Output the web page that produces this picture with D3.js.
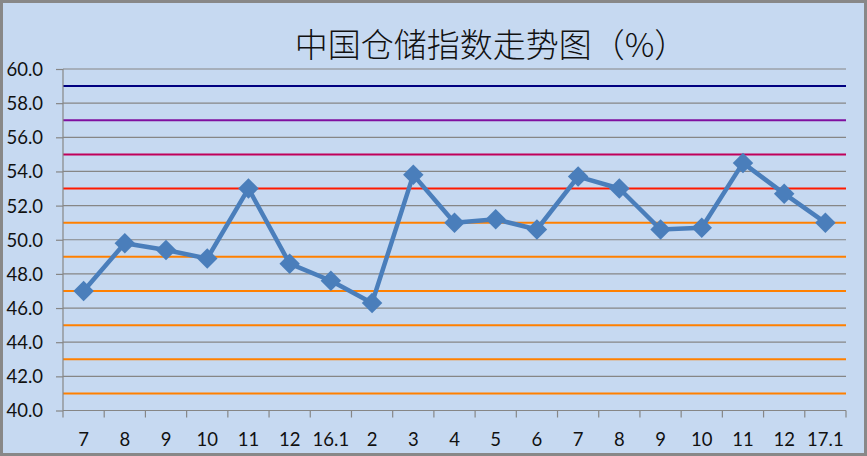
<!DOCTYPE html>
<html><head><meta charset="utf-8">
<script src="https://cdn.jsdelivr.net/npm/d3@7"></script>
<style>
html,body{margin:0;padding:0;background:#fff;}
svg{display:block;}
</style></head>
<body>
<svg id="chart" width="867" height="456"></svg>
<script>
const categories = ["7","8","9","10","11","12","16.1","2","3","4","5","6","7","8","9","10","11","12","17.1"];
const values = [47.0,49.8,49.4,48.9,53.0,48.6,47.6,46.3,53.8,51.0,51.2,50.6,53.7,53.0,50.6,50.7,54.5,52.7,51.0];
const yTicks = [40,42,44,46,48,50,52,54,56,58,60];
const refValues = [59,57,55,53,51,49,47,45,43,41];
const refColors = ["#000080","#7F0F9F","#C0005A","#FF1A00","#FF8000","#FF8000","#FF8000","#FF8000","#FF8000","#FF8000"];
const title = "中国仓储指数走势图（%）";

const W = 867, H = 456;
const m = {left:63, right:846, top:69, bottom:410.5};
const svg = d3.select("#chart");

svg.append("rect").attr("x",1.5).attr("y",1.5).attr("width",W-3).attr("height",H-3)
  .attr("fill","#C6D9F1").attr("stroke","#888888").attr("stroke-width",3);

const keys = categories.map((c,i)=>i);
const x = d3.scaleBand().domain(keys).range([m.left,m.right]);
const y = d3.scaleLinear().domain([40,60]).range([m.bottom,m.top]);

// gridlines
svg.append("g").selectAll("line").data(yTicks.filter(t=>t>40)).join("line")
  .attr("x1",m.left).attr("x2",m.right)
  .attr("y1",d=>y(d)).attr("y2",d=>y(d))
  .attr("stroke","#868686").attr("stroke-width",1.2);

// reference lines
svg.append("g").selectAll("line").data(refValues).join("line")
  .attr("x1",m.left).attr("x2",m.right)
  .attr("y1",d=>y(d)).attr("y2",d=>y(d))
  .attr("stroke",(d,i)=>refColors[i]).attr("stroke-width",2);

// y axis
const yAxis = d3.axisLeft(y).tickValues(yTicks).tickFormat(d3.format(".1f")).tickSize(7).tickPadding(13);
const gy = svg.append("g").attr("transform",`translate(${m.left},0)`).call(yAxis);
gy.select(".domain").attr("stroke","#868686").attr("stroke-width",1.2).attr("d",`M0,${m.top}V${m.bottom}`);
gy.selectAll(".tick line").attr("stroke","#868686").attr("stroke-width",1.2);
gy.selectAll("text").attr("font-family","Lato, 'Open Sans', sans-serif").attr("font-size",18.5).attr("fill","#111").attr("dy","0.35em");

// x axis
const xAxis = d3.axisBottom(x).tickFormat(i=>categories[i]).tickSize(0).tickPadding(22);
const gx = svg.append("g").attr("transform",`translate(0,${m.bottom})`).call(xAxis);
gx.select(".domain").attr("stroke","#868686").attr("stroke-width",1.2).attr("d",`M${m.left},0H${m.right}`);
gx.selectAll("text").attr("font-family","Lato, 'Open Sans', sans-serif").attr("font-size",18.5).attr("fill","#111");
// category boundary ticks
const bounds = keys.map(i=>x(i)).concat([m.right]);
gx.append("g").selectAll("line").data(bounds).join("line")
  .attr("x1",d=>d).attr("x2",d=>d).attr("y1",0).attr("y2",7)
  .attr("stroke","#868686").attr("stroke-width",1.2);

// line
const cx = i=>x(i)+x.bandwidth()/2;
const line = d3.line().x((d,i)=>cx(i)).y(d=>y(d));
svg.append("path").datum(values).attr("d",line)
  .attr("fill","none").attr("stroke","#4A7EBB").attr("stroke-width",4.5).attr("stroke-linejoin","round");

const diamond = d3.symbol().type(d3.symbolSquare).size(210);
svg.append("g").selectAll("path").data(values).join("path")
  .attr("d",diamond)
  .attr("transform",(d,i)=>`translate(${cx(i)},${y(d)}) rotate(45)`)
  .attr("fill","#4A7EBB");

// title
svg.append("text").attr("x",491).attr("y",57).attr("text-anchor","middle")
  .attr("font-family","'Noto Sans CJK SC', sans-serif").attr("font-size",33).attr("font-weight",300)
  .attr("fill","#111").text(title);
</script>
</body></html>
